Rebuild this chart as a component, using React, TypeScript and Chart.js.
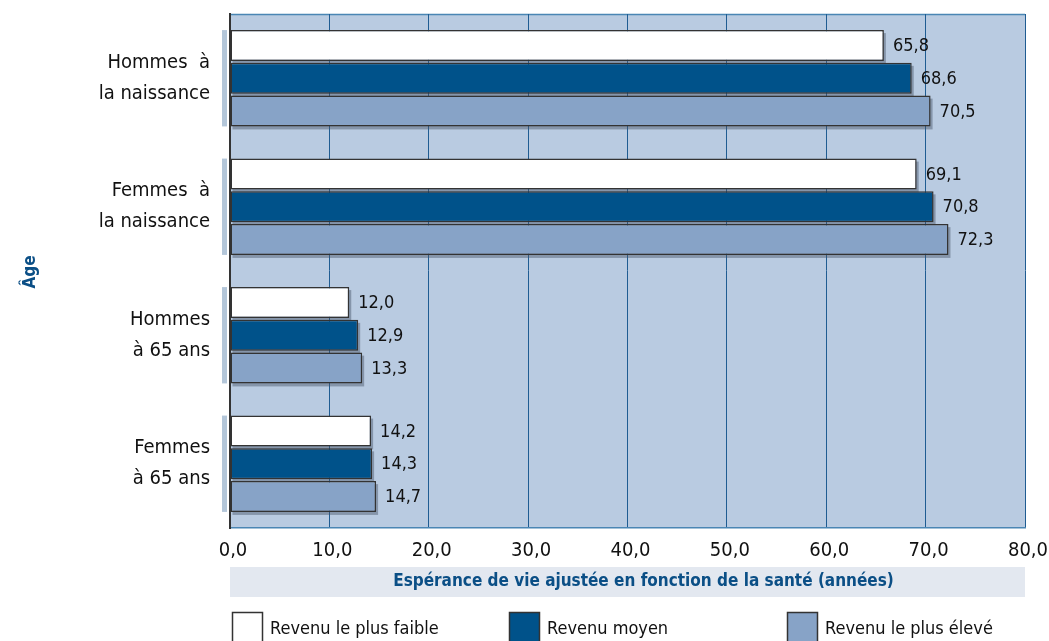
import React, { useEffect, useRef } from "react";
import { Chart, registerables } from "chart.js";

Chart.register(...registerables);

const FONT = "'Liberation Sans Narrow', 'DejaVu Sans Condensed', 'Arial Narrow', sans-serif";

const categories: string[][] = [
  ["Hommes  à", "la naissance"],
  ["Femmes  à", "la naissance"],
  ["Hommes", "à 65 ans"],
  ["Femmes", "à 65 ans"],
];
const seriesNames = ["Revenu le plus faible", "Revenu moyen", "Revenu le plus élevé"];
const lowIncome = [65.8, 69.1, 12.0, 14.2];
const midIncome = [68.6, 70.8, 12.9, 14.3];
const highIncome = [70.5, 72.3, 13.3, 14.7];
const xTicks = [0, 10, 20, 30, 40, 50, 60, 70, 80];
const xTitle = "Espérance de vie ajustée en fonction de la santé (années)";
const yTitle = "Âge";

const COLORS = ["#ffffff", "#00528a", "#87a3c7"];
const fmt = (v: number) => v.toFixed(1).replace(".", ",");

const decorPlugin = {
  id: "decor",
  beforeDraw(chart: any) {
    const { ctx, chartArea: a } = chart;
    ctx.save();
    ctx.fillStyle = "#b9cbe1";
    ctx.fillRect(a.left, a.top, a.right - a.left, a.bottom - a.top);
    ctx.strokeStyle = "#4a86b4";
    ctx.lineWidth = 1.5;
    ctx.beginPath();
    ctx.moveTo(a.left, a.top + 0.5);
    ctx.lineTo(a.right, a.top + 0.5);
    ctx.stroke();
    ctx.restore();
  },
  beforeDatasetsDraw(chart: any) {
    const { ctx } = chart;
    ctx.save();
    ctx.fillStyle = "rgba(70,85,105,0.45)";
    chart.data.datasets.forEach((_d: any, di: number) => {
      const meta = chart.getDatasetMeta(di);
      meta.data.forEach((el: any) => {
        const h = el.height;
        const left = Math.min(el.base, el.x);
        const w = Math.abs(el.x - el.base);
        ctx.fillRect(left + 2, el.y - h / 2 + 3, w, h);
      });
    });
    ctx.restore();
  },
  afterDatasetsDraw(chart: any) {
    const { ctx, chartArea: a } = chart;
    ctx.save();
    ctx.fillStyle = "#111";
    ctx.font = `18px ${FONT}`;
    ctx.textBaseline = "middle";
    ctx.textAlign = "left";
    chart.data.datasets.forEach((d: any, di: number) => {
      const meta = chart.getDatasetMeta(di);
      meta.data.forEach((el: any, i: number) => {
        ctx.fillText(fmt(d.data[i]), el.x + 9, el.y + 1);
      });
    });
    const m0 = chart.getDatasetMeta(0);
    const m2 = chart.getDatasetMeta(chart.data.datasets.length - 1);
    ctx.fillStyle = "#b3c6d9";
    m0.data.forEach((el: any, i: number) => {
      const top = el.y - el.height / 2;
      const bot = m2.data[i].y + m2.data[i].height / 2;
      ctx.fillRect(a.left - 8, top, 5, bot - top);
    });
    ctx.fillStyle = "#e3e8f0";
    ctx.fillRect(a.left, 567, a.right - a.left, 30);
    ctx.fillStyle = "#0b4f86";
    ctx.font = `bold 17px ${FONT}`;
    ctx.textAlign = "center";
    ctx.fillText(xTitle, (a.left + a.right) / 2 + 16, 582);
    ctx.save();
    ctx.translate(31, 272);
    ctx.rotate(-Math.PI / 2);
    ctx.fillText(yTitle, 0, 0);
    ctx.restore();
    const lx = [232, 509, 787];
    ctx.font = `18px ${FONT}`;
    ctx.textAlign = "left";
    seriesNames.forEach((name, i) => {
      ctx.fillStyle = COLORS[i];
      ctx.fillRect(lx[i], 612, 30, 31);
      ctx.strokeStyle = "#333";
      ctx.lineWidth = 1.5;
      ctx.strokeRect(lx[i] + 0.5, 612.5, 30, 31);
      ctx.fillStyle = "#111";
      ctx.fillText(name, lx[i] + 38, 629);
    });
    ctx.restore();
  },
};

export default function App() {
  const ref = useRef<HTMLCanvasElement | null>(null);
  useEffect(() => {
    document.body.style.margin = "0";
    const canvas = ref.current!;
    const chart = new Chart(canvas, {
      type: "bar",
      data: {
        labels: categories,
        datasets: [lowIncome, midIncome, highIncome].map((d, i) => ({
          label: seriesNames[i],
          data: d,
          backgroundColor: COLORS[i],
          borderColor: "#333333",
          borderWidth: 1.5,
          borderSkipped: false,
          categoryPercentage: 0.765,
          barPercentage: 0.94,
        })),
      },
      options: {
        indexAxis: "y",
        animation: false,
        responsive: false,
        layout: { padding: { top: 14, right: 24, left: 0, bottom: 0 } },
        plugins: { legend: { display: false }, tooltip: { enabled: false } },
        scales: {
          x: {
            min: 0,
            max: 80,
            afterBuildTicks: (s: any) => {
              s.ticks = xTicks.map((v) => ({ value: v }));
            },
            afterFit: (s: any) => {
              s.height = 113;
              s.paddingLeft = 0;
              s.paddingRight = 0;
            },
            grid: { color: "#1f5c92", lineWidth: 1, drawTicks: false },
            border: { color: "#4a86b4", width: 1.5 },
            ticks: {
              padding: 11,
              labelOffset: 3,
              color: "#111",
              font: { family: FONT, size: 20 },
              callback: (v: any) => fmt(Number(v)),
              maxRotation: 0,
            },
          },
          y: {
            afterFit: (s: any) => {
              s.width = 230;
              s.paddingTop = 0;
              s.paddingBottom = 0;
            },
            grid: { display: false },
            border: { color: "#333333", width: 2 },
            ticks: {
              padding: 12,
              color: "#111",
              font: { family: FONT, size: 20, lineHeight: 1.55 },
            },
          },
        },
      },
      plugins: [decorPlugin],
    });
    return () => chart.destroy();
  }, []);
  return (
    <div style={{ position: "absolute", left: 0, top: 0, width: 1049, height: 641 }}>
      <canvas ref={ref} width={1049} height={641} />
    </div>
  );
}
